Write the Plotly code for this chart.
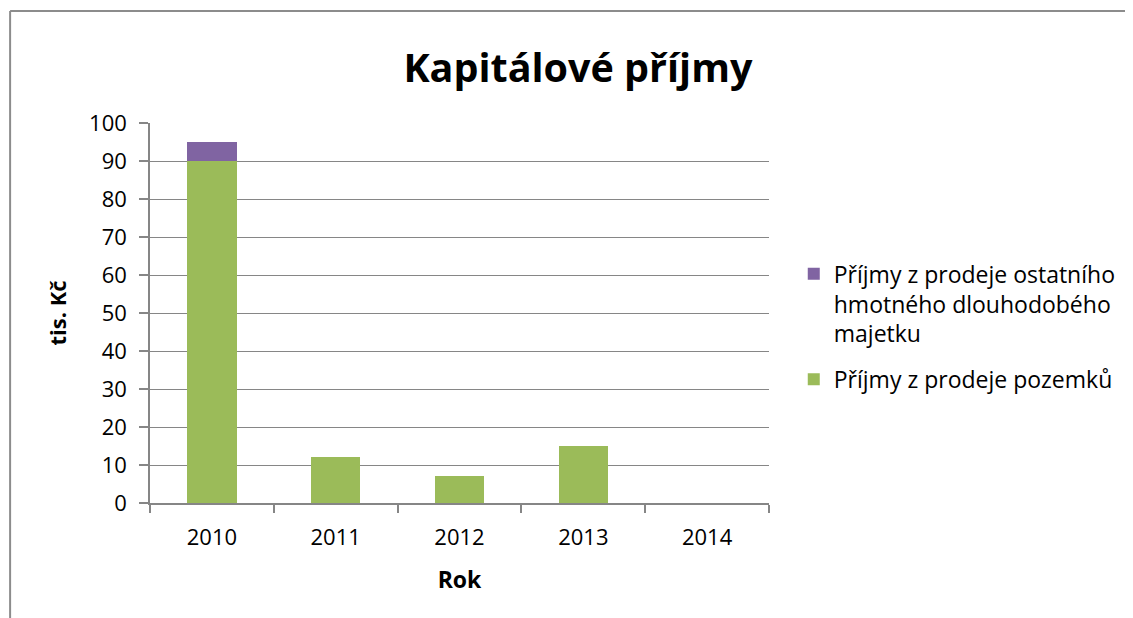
import plotly.graph_objects as go

years = ["2010", "2011", "2012", "2013", "2014"]
pozemky = [90, 12, 7, 15, 0]
ostatni = [5, 0, 0, 0, 0]

name_pozemky = "Příjmy z prodeje pozemků"
name_ostatni = "Příjmy z prodeje ostatního<br>hmotného dlouhodobého<br>majetku"

green = "#9BBB59"
purple = "#8064A2"
grid = "#868686"
font = "Open Sans"

fig = go.Figure()
fig.add_trace(go.Bar(x=years, y=pozemky, name=name_pozemky, marker_color=green,
                     marker_line_width=0, legendgroup="a", legendrank=2))
fig.add_trace(go.Bar(x=years, y=ostatni, name=name_ostatni, marker_color=purple,
                     marker_line_width=0, legendgroup="b", legendrank=1))

fig.update_layout(
    width=1133, height=618,
    barmode="stack", bargap=0.6,
    paper_bgcolor="white", plot_bgcolor="white",
    margin=dict(l=142, r=372, t=115, b=123),
    font=dict(family=font, size=22, color="black"),
    title=dict(text="<b>Kapitálové příjmy</b>", x=0.503, xanchor="center",
               y=0.903, yanchor="middle", font=dict(size=39.5, family=font)),
    legend=dict(x=1.040, xanchor="left", y=0.66, yanchor="top",
                traceorder="grouped", valign="top", tracegroupgap=13,
                font=dict(size=23, family=font)),
    showlegend=True,
)
fig.update_xaxes(type="category", showline=True, linecolor=grid, linewidth=1.5,
                 ticks="outside", tickson="boundaries", ticklen=8, tickcolor=grid,
                 tickwidth=1.5, showgrid=False, ticklabelstandoff=14,
                 title=dict(text="<b>Rok</b>", font=dict(size=23), standoff=22))
fig.update_yaxes(range=[0, 100], dtick=10, showline=True, linecolor=grid, linewidth=1.5,
                 ticks="outside", ticklen=9, tickcolor=grid, tickwidth=1.5,
                 showgrid=True, gridcolor=grid, gridwidth=1, zeroline=False,
                 ticklabelstandoff=8,
                 title=dict(text="<b>tis. Kč</b>", font=dict(size=22), standoff=16))

# outer chart border (left and top edges visible)
fig.add_shape(type="line", xref="paper", yref="paper", x0=-0.226, x1=1.62,
              y0=1.295, y1=1.295, line=dict(color="#8c8c8c", width=2))
fig.add_shape(type="line", xref="paper", yref="paper", x0=-0.226, x1=-0.226,
              y0=1.295, y1=-0.35, line=dict(color="#8c8c8c", width=2))

fig.write_html("out.html")
